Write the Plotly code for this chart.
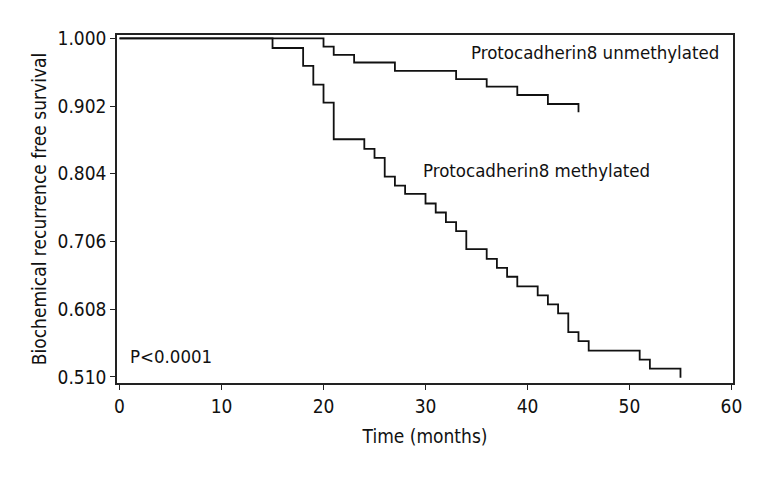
import plotly.graph_objects as go

unmeth_time = [0, 20, 21, 23, 27, 33, 36, 39, 42, 45]
unmeth_surv = [1.000, 0.988, 0.976, 0.965, 0.953, 0.941, 0.930, 0.918, 0.905, 0.893]

meth_time = [0, 15, 18, 19, 20, 21, 24, 25, 26, 27, 28, 30, 31, 32, 33, 34,
             36, 37, 38, 39, 41, 42, 43, 44, 45, 46, 51, 52, 55]
meth_surv = [1.000, 0.986, 0.960, 0.933, 0.907, 0.854, 0.840, 0.827, 0.800,
             0.787, 0.775, 0.761, 0.748, 0.734, 0.721, 0.695, 0.681, 0.668,
             0.655, 0.641, 0.628, 0.615, 0.602, 0.575, 0.562, 0.548, 0.535,
             0.522, 0.509]

y_ticks = [1.000, 0.902, 0.804, 0.706, 0.608, 0.510]
y_tick_labels = ["1.000", "0.902", "0.804", "0.706", "0.608", "0.510"]
x_ticks = [0, 10, 20, 30, 40, 50, 60]

FONT = "DejaVu Sans Condensed, Roboto, sans-serif"

fig = go.Figure()
fig.add_trace(go.Scatter(x=unmeth_time, y=unmeth_surv, mode="lines",
                         line=dict(shape="hv", color="#111111", width=1.8),
                         name="Protocadherin8 unmethylated", showlegend=False))
fig.add_trace(go.Scatter(x=meth_time, y=meth_surv, mode="lines",
                         line=dict(shape="hv", color="#111111", width=1.8),
                         name="Protocadherin8 methylated", showlegend=False))

fig.add_annotation(x=1.0, xref="paper", xanchor="right", xshift=-12,
                   y=0.979, yref="y", text="Protocadherin8 unmethylated",
                   showarrow=False, font=dict(size=18.5, color="#111111", family=FONT))
fig.add_annotation(x=29.6, xref="x", xanchor="left",
                   y=0.809, yref="y", text="Protocadherin8 methylated",
                   showarrow=False, font=dict(size=18.5, color="#111111", family=FONT))
fig.add_annotation(x=0.8, xref="x", xanchor="left",
                   y=0.540, yref="y", text="P<0.0001",
                   showarrow=False, font=dict(size=18.5, color="#111111", family=FONT))

fig.update_layout(
    width=768, height=480,
    margin=dict(l=109, r=43, t=27, b=105),
    paper_bgcolor="white", plot_bgcolor="white",
    font=dict(family=FONT, size=18, color="#111111"),
)
fig.update_xaxes(range=[-0.25, 60.15], tickvals=x_ticks, ticks="outside",
                 ticklen=5, tickwidth=1.3, tickcolor="#222222",
                 showline=True, linecolor="#222222", linewidth=1.5, mirror=True,
                 showgrid=False, zeroline=False,
                 title=dict(text="Time (months)", font=dict(size=19), standoff=14),
                 tickfont=dict(size=19))
fig.update_yaxes(range=[0.5013, 1.0048], tickvals=y_ticks, ticktext=y_tick_labels,
                 ticks="outside", ticklen=5, tickwidth=1.3, tickcolor="#222222",
                 showline=True, linecolor="#222222", linewidth=1.5, mirror=True,
                 showgrid=False, zeroline=False,
                 title=dict(text="Biochemical recurrence free survival",
                            font=dict(size=19), standoff=6),
                 tickfont=dict(size=19))

fig.write_html("out.html")
